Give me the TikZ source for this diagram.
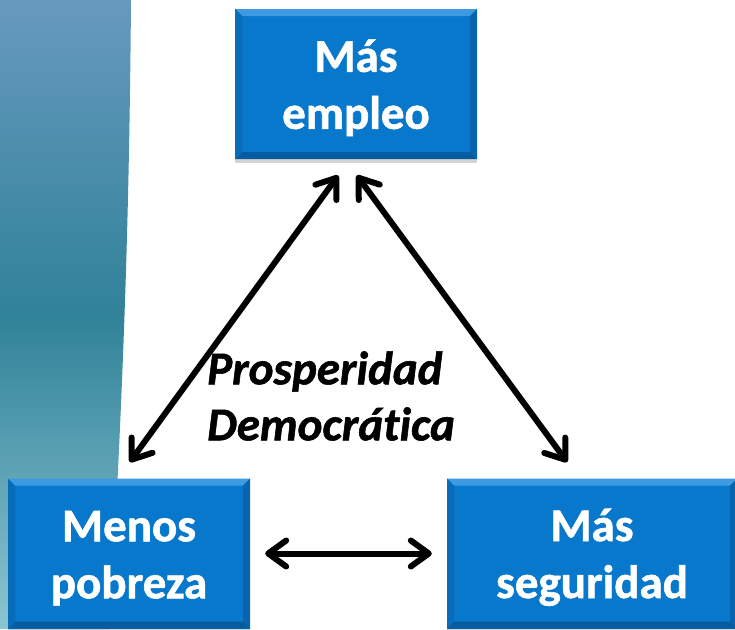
\documentclass[tikz,border=0pt]{standalone}
\usepackage{fontspec}
\setmainfont{Carlito}
\newfontfamily\gruesa{Carlito}[FakeBold=1.2, Ligatures=NoCommon]
\usetikzlibrary{arrows.meta,shadows}

\definecolor{cajaazul}{RGB}{8,120,204}
\definecolor{bordeclaro}{RGB}{62,155,225}
\definecolor{bordeoscuro}{RGB}{6,92,160}
\definecolor{fondoarriba}{RGB}{103,153,191}
\definecolor{fondomedio}{RGB}{48,130,152}
\definecolor{fondoabajo}{RGB}{140,196,210}

\newcommand{\alto}{\rule{0pt}{40pt}}

\tikzset{
	caja/.style={rectangle, fill=cajaazul, text=white, inner sep=0pt,
		minimum height=150pt, align=center,
		font=\gruesa\fontsize{47}{57}\selectfont\bfseries,
		drop shadow={shadow xshift=0pt, shadow yshift=-4pt, opacity=0.35},
		path picture={
			\fill[bordeclaro] (path picture bounding box.north west) -- (path picture bounding box.north east)
				-- ([xshift=-7pt,yshift=-7pt]path picture bounding box.north east) -- ([xshift=7pt,yshift=-7pt]path picture bounding box.north west) -- cycle;
			\fill[bordeoscuro] (path picture bounding box.south west) -- (path picture bounding box.south east)
				-- ([xshift=-7pt,yshift=7pt]path picture bounding box.south east) -- ([xshift=7pt,yshift=7pt]path picture bounding box.south west) -- cycle;
			\fill[bordeoscuro!70!cajaazul] (path picture bounding box.north east) -- (path picture bounding box.south east)
				-- ([xshift=-7pt,yshift=7pt]path picture bounding box.south east) -- ([xshift=-7pt,yshift=-7pt]path picture bounding box.north east) -- cycle;
			\fill[bordeoscuro!40!cajaazul] (path picture bounding box.north west) -- (path picture bounding box.south west)
				-- ([xshift=7pt,yshift=7pt]path picture bounding box.south west) -- ([xshift=7pt,yshift=-7pt]path picture bounding box.north west) -- cycle;
		}},
	flecha/.style={{Straight Barb[length=18pt,width=26pt,round]}-{Straight Barb[length=18pt,width=26pt,round]},
		line width=6pt, black}
}

\begin{document}
\begin{tikzpicture}[x=1pt,y=-1pt]
	\useasboundingbox (0,0) rectangle (735,629);
	\clip (0,0) rectangle (735,629);

	% banda de fondo
	\shade[top color=fondoarriba, bottom color=fondoabajo, middle color=fondomedio]
		(0,0) -- (131,0) .. controls (129,250) and (122,400) .. (110,629) -- (0,629) -- cycle;

	\node[caja, minimum width=242pt] (empleo) at (356,84) {\alto Más\\empleo};
	\node[caja, minimum width=242pt] (pobreza) at (129,553.5) {\alto Menos\\pobreza};
	\node[caja, minimum width=290pt] (seguridad) at (592,553.5) {\alto Más\\seguridad};

	\node[anchor=west, align=left, inner sep=0pt, font=\gruesa\fontsize{47}{56}\selectfont\bfseries\itshape] (lema) at (207,396) {Prosperidad\\Democrática};

	\draw[flecha, shorten <=20pt, shorten >=20pt] ([xshift=-6pt]empleo.south) -- ([xshift=-11pt]pobreza.north);
	\draw[flecha, shorten <=20pt, shorten >=20pt] ([xshift=-11pt]empleo.south) -- ([xshift=-13pt]seguridad.north);
	\draw[flecha, shorten <=15pt, shorten >=15pt] (pobreza.east) -- (seguridad.west);

\end{tikzpicture}
\end{document}
